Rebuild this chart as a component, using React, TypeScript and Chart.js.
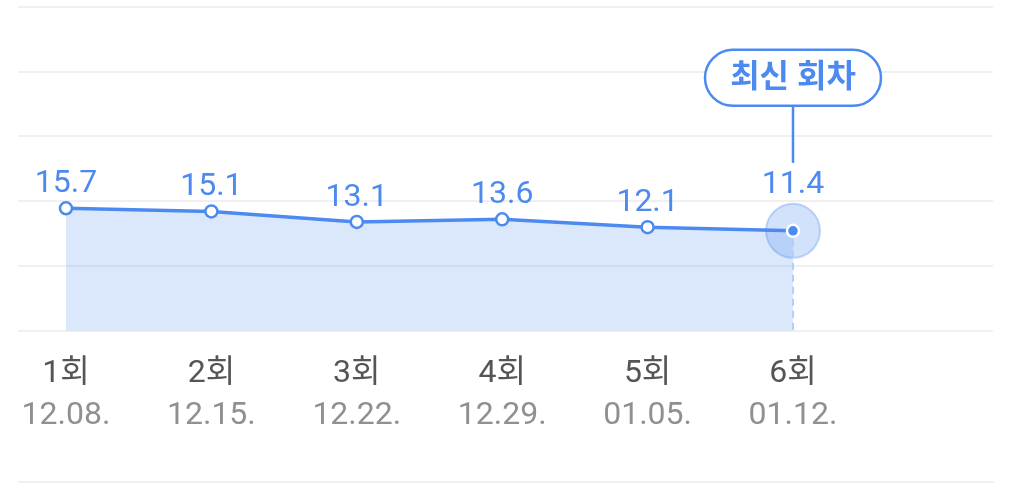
import React, {useEffect, useRef} from "react";
import {Chart, registerables} from 'chart.js';

Chart.register(...registerables);

const rounds = ['1회', '2회', '3회', '4회', '5회', '6회'];
const dates = ['12.08.', '12.15.', '12.22.', '12.29.', '01.05.', '01.12.'];
const values = [15.7, 15.1, 13.1, 13.6, 12.1, 11.4];
const calloutText = '최신 회차';

const BLUE = '#4d8af0';
const GRID = '#eef0f3';
const FONT = "Roboto, 'Noto Sans CJK KR', sans-serif";
const HALO_R = 27;

const overlayPlugin = {
    id: 'overlay',
    afterDatasetsDraw(chart: any) {
        const ctx = chart.ctx;
        const meta = chart.getDatasetMeta(0);
        const area = chart.chartArea;
        const lastIdx = meta.data.length - 1;
        const last = meta.data[lastIdx];

        ctx.save();
        // dashed drop line under latest point
        ctx.strokeStyle = '#b7cdf7';
        ctx.lineWidth = 2;
        ctx.setLineDash([7, 5]);
        ctx.beginPath();
        ctx.moveTo(last.x, last.y + 8);
        ctx.lineTo(last.x, area.bottom);
        ctx.stroke();
        ctx.setLineDash([]);

        // value labels (latest one sits above the halo)
        ctx.fillStyle = BLUE;
        ctx.font = `32px ${FONT}`;
        ctx.textAlign = 'center';
        ctx.textBaseline = 'alphabetic';
        meta.data.forEach((pt: any, i: number) => {
            const off = i === lastIdx ? HALO_R + 11 : 16;
            ctx.fillText(values[i].toFixed(1), pt.x, pt.y - off);
        });

        // callout
        const w = 176, h = 56;
        const bx = last.x - w / 2;
        const by = last.y - 125 - h;
        ctx.strokeStyle = BLUE;
        ctx.lineWidth = 2.5;
        ctx.beginPath();
        ctx.moveTo(last.x, by + h);
        ctx.lineTo(last.x, last.y - 68);
        ctx.stroke();

        ctx.fillStyle = '#ffffff';
        ctx.beginPath();
        ctx.roundRect(bx, by, w, h, h / 2);
        ctx.fill();
        ctx.stroke();

        ctx.fillStyle = BLUE;
        ctx.font = `bold 32px ${FONT}`;
        ctx.textBaseline = 'middle';
        ctx.fillText(calloutText, last.x, by + h / 2 + 1);

        // bottom rule
        ctx.strokeStyle = GRID;
        ctx.lineWidth = 2;
        ctx.beginPath();
        ctx.moveTo(area.left, 482);
        ctx.lineTo(area.right + 1, 482);
        ctx.stroke();
        ctx.restore();
    }
};

const App: React.FC = () => {
    const canvasRef = useRef<HTMLCanvasElement>(null);

    useEffect(() => {
        if (!canvasRef.current) return;
        const ctx = canvasRef.current.getContext('2d');
        if (!ctx) return;

        const points = values.map((v, i) => ({x: i, y: v}));
        const halo = values.map((v, i) => ({x: i, y: i === values.length - 1 ? v : null}));
        const lastIdx = values.length - 1;

        const chart = new Chart(ctx, {
            type: 'line',
            data: {
                datasets: [
                    {
                        data: points,
                        borderColor: BLUE,
                        borderWidth: 3.5,
                        backgroundColor: 'rgba(77,138,240,0.2)',
                        fill: 'start',
                        tension: 0,
                        pointRadius: 6,
                        pointBorderWidth: 2.5,
                        pointBackgroundColor: values.map((_, i) => i === lastIdx ? BLUE : '#ffffff'),
                        pointBorderColor: values.map((_, i) => i === lastIdx ? '#ffffff' : BLUE),
                        order: 0,
                    },
                    {
                        data: halo as any,
                        showLine: false,
                        pointRadius: HALO_R,
                        pointBorderWidth: 2,
                        pointBackgroundColor: 'rgba(77,138,240,0.25)',
                        pointBorderColor: 'rgba(77,138,240,0.32)',
                        order: 1,
                    },
                ],
            },
            options: {
                animation: false,
                responsive: true,
                maintainAspectRatio: false,
                events: [],
                layout: {
                    autoPadding: false,
                    padding: {left: 18, right: 31, top: 7, bottom: 61.5}
                },
                plugins: {
                    legend: {display: false},
                    tooltip: {enabled: false},
                },
                scales: {
                    x: {
                        type: 'linear',
                        position: 'bottom',
                        min: -0.33,
                        max: 6.3755,
                        afterBuildTicks: (axis: any) => {
                            axis.ticks = rounds.map((_, i) => ({value: i}));
                        },
                        afterFit: (axis: any) => {
                            axis.height = 60.4;
                        },
                        grid: {display: false, drawTicks: false},
                        border: {display: false},
                        ticks: {
                            autoSkip: false,
                            maxRotation: 0,
                            padding: 24,
                            color: '#555555',
                            font: {family: FONT, size: 32},
                            callback: (v: any) => rounds[v] ?? '',
                        },
                        weight: 0,
                    },
                    x2: {
                        type: 'linear',
                        position: 'bottom',
                        min: -0.33,
                        max: 6.3755,
                        afterBuildTicks: (axis: any) => {
                            axis.ticks = dates.map((_, i) => ({value: i}));
                        },
                        afterFit: (axis: any) => {
                            axis.height = 42.4;
                        },
                        grid: {display: false, drawTicks: false},
                        border: {display: false},
                        ticks: {
                            autoSkip: false,
                            maxRotation: 0,
                            padding: 6,
                            color: '#909090',
                            font: {family: FONT, size: 32},
                            callback: (v: any) => dates[v] ?? '',
                        },
                        weight: 1,
                    },
                    y: {
                        min: -7.6,
                        max: 54,
                        afterBuildTicks: (axis: any) => {
                            const step = (axis.max - axis.min) / 5;
                            axis.ticks = [0, 1, 2, 3, 4, 5].map(i => ({value: axis.min + i * step}));
                        },
                        afterFit: (axis: any) => {
                            axis.width = 0;
                        },
                        grid: {color: GRID, lineWidth: 2, drawTicks: false},
                        border: {display: false},
                        ticks: {display: false},
                    },
                },
            },
            plugins: [overlayPlugin],
        });

        return () => {
            chart.destroy();
        };
    }, []);

    return (
        <div style={{position: 'fixed', left: 0, top: 0, width: 1024, height: 495, background: '#fff'}}>
            <canvas ref={canvasRef}></canvas>
        </div>
    );
};

export default App;
